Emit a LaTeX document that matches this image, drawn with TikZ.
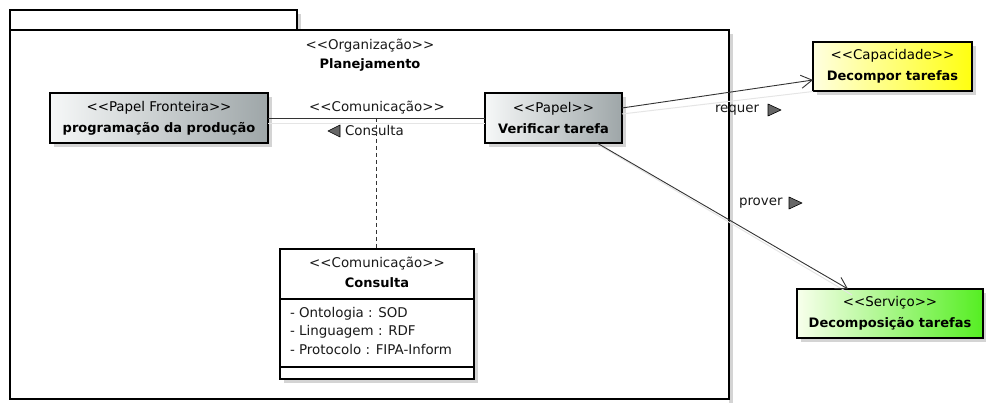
\documentclass[tikz,border=0pt]{standalone}
\usepackage{fontspec}
\newfontfamily\umlfont{DejaVu Sans}
\usetikzlibrary{arrows.meta,shadows}
\definecolor{grayR}{HTML}{9EA6A8}
\definecolor{grayL}{HTML}{F6F8F8}
\definecolor{yelL}{HTML}{FFFFE0}
\definecolor{yelR}{HTML}{FFFF10}
\definecolor{grnL}{HTML}{F8FFEC}
\definecolor{grnR}{HTML}{55EE22}
\definecolor{shd}{HTML}{D4D4D4}
\newcommand{\umlname}[1]{\textbf{\fontsize{13}{21}\selectfont #1}}
\begin{document}
\begin{tikzpicture}[x=1pt,y=-1pt,
  every node/.style={inner sep=0pt,outer sep=0pt,font=\umlfont\fontsize{13.4}{21}\selectfont},
  umlbox/.style={draw=black,line width=1.6pt,align=center,
    drop shadow={shadow xshift=4pt,shadow yshift=-4pt,fill=shd,opacity=1}},
  rolebox/.style={umlbox,left color=grayL,right color=grayR},
  capbox/.style={umlbox,left color=yelL,right color=yelR},
  servbox/.style={umlbox,left color=grnL,right color=grnR},
  classbox/.style={umlbox,fill=white},
  conn/.style={draw=black!80,line width=0.9pt},
  ghost/.style={draw=black!10,line width=1pt},
  openarrow/.style={-{Straight Barb[length=11pt,width=13pt,line width=0.9pt]}},
  tri/.style={draw=black,fill=black!60,line width=0.6pt,line join=round},
  txt/.style={text=black!90},
  bold/.style={font=\umlfont\bfseries\fontsize{13}{15}\selectfont}
]
\useasboundingbox (0,0) rectangle (986,403);
% package
\fill[shd] (297,14) rectangle (301,30);
\fill[shd] (729,34) rectangle (733,403);
\draw[line width=1.6pt] (10,10) rectangle (297,30);
\node[draw=black,line width=1.6pt,minimum width=719pt,minimum height=369pt,fill=white] (pkg) at (369.5,214.5) {};
\node[txt] (pkgst) at (370,46) {<<Organização>>};
\node[bold] (pkgname) at (370,65) {Planejamento};

% boxes
\node[rolebox,minimum width=218pt,minimum height=50pt] (pf) at (159,118)
  {<<Papel Fronteira>>\\\umlname{programação da produção}};
\node[rolebox,minimum width=137pt,minimum height=50pt] (vt) at (553.5,118)
  {<<Papel>>\\\umlname{Verificar tarefa}};
\node[capbox,minimum width=159pt,minimum height=49pt] (cap) at (892.5,66.5)
  {<<Capacidade>>\\\umlname{Decompor tarefas}};
\node[servbox,minimum width=186pt,minimum height=49pt] (serv) at (890,313.5)
  {<<Serviço>>\\\umlname{Decomposição tarefas}};
\node[classbox,minimum width=194pt,minimum height=130pt] (cons) at (377,314) {};
\node[txt] (consst) at (377,264) {<<Comunicação>>};
\node[bold] (consname) at (377,283) {Consulta};
\draw[line width=1.2pt] ([yshift=-50pt]cons.north west) -- ([yshift=-50pt]cons.north east);
\draw[line width=1.2pt] ([yshift=12pt]cons.south west) -- ([yshift=12pt]cons.south east);
\node[txt,anchor=west] (a1) at (290,314) {- Ontologia : SOD};
\node[txt,anchor=west] (a2) at (290,332) {- Linguagem : RDF};
\node[txt,anchor=west] (a3) at (290,350) {- Protocolo : FIPA-Inform};

% communication link
\draw[ghost] ([yshift=-6pt]pf.east) -- ([yshift=-6pt]vt.west);
\draw[conn] (pf.east) -- (vt.west);
\node[txt] (commst) at (377,108) {<<Comunicação>>};
\node[txt,anchor=west] (commname) at (345,131) {Consulta};
\draw[tri] (328,131) -- (340,125) -- (340,137) -- cycle;
\coordinate (cm) at (376,118);
\draw[conn,line width=0.8pt,dash pattern=on 4pt off 3pt] (cm) -- (cons.north -| cm);

% requer
\draw[ghost] ([yshift=4pt]vt.east) -- ([yshift=-25pt]cap.west);
\draw[conn,openarrow] ([yshift=10pt]vt.east) -- ([yshift=-13.5pt]cap.west);
\node[txt,anchor=west] (req) at (715,110) {requer};
\draw[tri] (768,104) -- (781,110) -- (768,116) -- cycle;

% prover
\draw[ghost] ([xshift=47pt,yshift=-3pt]vt.south) -- ([xshift=-38pt,yshift=-6pt]serv.north);
\draw[conn,openarrow] ([xshift=43.5pt]vt.south) -- ([xshift=-42pt]serv.north);
\node[txt,anchor=west] (prov) at (739,203) {prover};
\draw[tri] (789,197) -- (802,203) -- (789,209) -- cycle;
\end{tikzpicture}
\end{document}
